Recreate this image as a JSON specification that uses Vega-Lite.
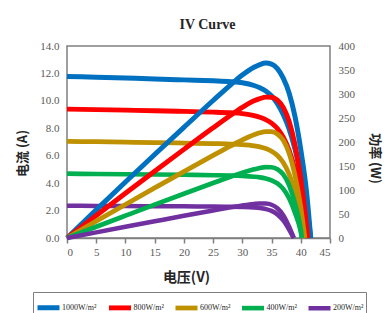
{
"$schema": "https://vega.github.io/schema/vega-lite/v6.json",
"autosize": {"type": "none"},
"width": 263, "height": 192,
"padding": {"left": 67, "top": 46, "right": 60, "bottom": 75},
"background": "white",
"title": {"text": "IV Curve", "font": "Liberation Serif", "fontSize": 14, "fontWeight": "bold", "color": "#262626", "dx": 9, "offset": 8},
"data": {"values": [
{"s":"1000W/m²","V":0,"I":11.78,"P":0},{"s":"1000W/m²","V":5,"I":11.72,"P":58.6},{"s":"1000W/m²","V":10,"I":11.66,"P":116.6},{"s":"1000W/m²","V":15,"I":11.6,"P":174},{"s":"1000W/m²","V":20,"I":11.53,"P":230.6},{"s":"1000W/m²","V":25,"I":11.46,"P":286.5},{"s":"1000W/m²","V":28,"I":11.4,"P":319.2},{"s":"1000W/m²","V":30,"I":11.32,"P":339.6},{"s":"1000W/m²","V":32,"I":11.12,"P":355.8},{"s":"1000W/m²","V":33,"I":10.95,"P":361.4},{"s":"1000W/m²","V":34,"I":10.72,"P":364.5},{"s":"1000W/m²","V":35,"I":10.35,"P":362.3},{"s":"1000W/m²","V":36,"I":9.8,"P":352.8},{"s":"1000W/m²","V":37,"I":9.0,"P":333},{"s":"1000W/m²","V":38,"I":7.95,"P":302.1},{"s":"1000W/m²","V":39,"I":6.5,"P":253.5},{"s":"1000W/m²","V":40,"I":4.6,"P":184},{"s":"1000W/m²","V":41,"I":2.3,"P":94.3},{"s":"1000W/m²","V":41.7,"I":0,"P":0},
{"s":"800W/m²","V":0,"I":9.4,"P":0},{"s":"800W/m²","V":5,"I":9.36,"P":46.8},{"s":"800W/m²","V":10,"I":9.32,"P":93.2},{"s":"800W/m²","V":15,"I":9.28,"P":139.2},{"s":"800W/m²","V":20,"I":9.23,"P":184.6},{"s":"800W/m²","V":25,"I":9.18,"P":229.5},{"s":"800W/m²","V":28,"I":9.13,"P":255.6},{"s":"800W/m²","V":30,"I":9.07,"P":272.1},{"s":"800W/m²","V":32,"I":8.93,"P":285.8},{"s":"800W/m²","V":33,"I":8.8,"P":290.4},{"s":"800W/m²","V":34,"I":8.63,"P":293.4},{"s":"800W/m²","V":35,"I":8.38,"P":293.3},{"s":"800W/m²","V":36,"I":7.98,"P":287.3},{"s":"800W/m²","V":37,"I":7.35,"P":272},{"s":"800W/m²","V":38,"I":6.4,"P":243.2},{"s":"800W/m²","V":39,"I":5.0,"P":195},{"s":"800W/m²","V":40,"I":3.1,"P":124},{"s":"800W/m²","V":41,"I":0.6,"P":24.6},{"s":"800W/m²","V":41.2,"I":0,"P":0},
{"s":"600W/m²","V":0,"I":7.05,"P":0},{"s":"600W/m²","V":5,"I":7.02,"P":35.1},{"s":"600W/m²","V":10,"I":6.99,"P":69.9},{"s":"600W/m²","V":15,"I":6.96,"P":104.4},{"s":"600W/m²","V":20,"I":6.92,"P":138.4},{"s":"600W/m²","V":25,"I":6.88,"P":172},{"s":"600W/m²","V":28,"I":6.85,"P":191.8},{"s":"600W/m²","V":30,"I":6.81,"P":204.3},{"s":"600W/m²","V":32,"I":6.72,"P":215},{"s":"600W/m²","V":33,"I":6.64,"P":219.1},{"s":"600W/m²","V":34,"I":6.52,"P":221.7},{"s":"600W/m²","V":35,"I":6.33,"P":221.6},{"s":"600W/m²","V":36,"I":6.02,"P":216.7},{"s":"600W/m²","V":37,"I":5.5,"P":203.5},{"s":"600W/m²","V":38,"I":4.65,"P":176.7},{"s":"600W/m²","V":39,"I":3.35,"P":130.7},{"s":"600W/m²","V":40,"I":1.6,"P":64},{"s":"600W/m²","V":40.7,"I":0,"P":0},
{"s":"400W/m²","V":0,"I":4.69,"P":0},{"s":"400W/m²","V":5,"I":4.67,"P":23.4},{"s":"400W/m²","V":10,"I":4.65,"P":46.5},{"s":"400W/m²","V":15,"I":4.63,"P":69.5},{"s":"400W/m²","V":20,"I":4.61,"P":92.2},{"s":"400W/m²","V":25,"I":4.58,"P":114.5},{"s":"400W/m²","V":28,"I":4.56,"P":127.7},{"s":"400W/m²","V":30,"I":4.53,"P":135.9},{"s":"400W/m²","V":32,"I":4.47,"P":143},{"s":"400W/m²","V":33,"I":4.42,"P":145.9},{"s":"400W/m²","V":34,"I":4.34,"P":147.6},{"s":"400W/m²","V":35,"I":4.21,"P":147.4},{"s":"400W/m²","V":36,"I":3.98,"P":143.3},{"s":"400W/m²","V":37,"I":3.58,"P":132.5},{"s":"400W/m²","V":38,"I":2.9,"P":110.2},{"s":"400W/m²","V":39,"I":1.85,"P":72.2},{"s":"400W/m²","V":40,"I":0.45,"P":18},{"s":"400W/m²","V":40.2,"I":0,"P":0},
{"s":"200W/m²","V":0,"I":2.35,"P":0},{"s":"200W/m²","V":5,"I":2.34,"P":11.7},{"s":"200W/m²","V":10,"I":2.33,"P":23.3},{"s":"200W/m²","V":15,"I":2.32,"P":34.8},{"s":"200W/m²","V":20,"I":2.31,"P":46.2},{"s":"200W/m²","V":25,"I":2.29,"P":57.3},{"s":"200W/m²","V":28,"I":2.28,"P":63.8},{"s":"200W/m²","V":30,"I":2.26,"P":67.8},{"s":"200W/m²","V":32,"I":2.22,"P":71},{"s":"200W/m²","V":33,"I":2.18,"P":71.9},{"s":"200W/m²","V":34,"I":2.11,"P":71.7},{"s":"200W/m²","V":35,"I":1.98,"P":69.3},{"s":"200W/m²","V":36,"I":1.72,"P":61.9},{"s":"200W/m²","V":37,"I":1.28,"P":47.4},{"s":"200W/m²","V":38,"I":0.62,"P":23.6},{"s":"200W/m²","V":38.8,"I":0,"P":0}
]},
"encoding": {
  "x": {"field": "V", "type": "quantitative", "scale": {"domain": [0, 45], "nice": false},
        "axis": {"values": [0,5,10,15,20,25,30,35,40,45], "grid": false, "ticks": true, "tickSize": 5, "tickColor": "#7f7f7f", "tickWidth": 1.5, "domainColor": "#7f7f7f", "domainWidth": 1.5,
                 "labelFont": "Liberation Serif", "labelFontSize": 11, "labelColor": "#595959", "labelPadding": 3,
                 "title": "电压(V)", "titleFont": "Noto Sans CJK SC", "titleFontSize": 14, "titleFontWeight": "bold", "titleColor": "#262626",
                 "titleX": 119, "titleY": 39, "titleBaseline": "middle", "titleAnchor": null}},
  "color": {"field": "s", "type": "nominal",
            "scale": {"domain": ["1000W/m²","800W/m²","600W/m²","400W/m²","200W/m²"], "range": ["#0070C0","#FF0000","#BF9000","#00B050","#7030A0"]},
            "legend": {"orient": "none", "legendX": -34, "legendY": 246, "direction": "horizontal", "columns": 5, "title": null, "gridAlign": "each",
                       "symbolType": "stroke", "symbolSize": 484, "symbolStrokeWidth": 5, "symbolOpacity": 1,
                       "labelFont": "Liberation Serif", "labelFontSize": 8, "labelColor": "#262626", "labelOffset": 0,
                       "columnPadding": 1.5, "padding": 2, "strokeColor": "#7f7f7f", "fillColor": "white"}},
  "strokeWidth": {"field": "s", "type": "nominal", "legend": null,
            "scale": {"domain": ["1000W/m²","800W/m²","600W/m²","400W/m²","200W/m²"], "range": [5, 4.5, 5, 3.3, 3.7]}}
},
"layer": [
  {"mark": {"type": "line", "interpolate": "monotone"},
   "encoding": {"y": {"field": "I", "type": "quantitative", "scale": {"domain": [0, 14], "nice": false},
      "axis": {"orient": "left", "values": [0,2,4,6,8,10,12,14], "format": ".1f", "grid": false, "ticks": false, "domain": false,
               "labelFont": "Liberation Serif", "labelFontSize": 11, "labelColor": "#595959", "labelPadding": 8,
               "title": "电流 (A)", "titleFont": "Noto Sans CJK SC", "titleFontSize": 13, "titleFontWeight": "bold", "titleColor": "#262626",
               "titleAngle": -90, "titleX": -45, "titleY": 107, "titleBaseline": "middle", "titleAlign": "center"}}}},
  {"mark": {"type": "line", "interpolate": "monotone"},
   "encoding": {"y": {"field": "P", "type": "quantitative", "scale": {"domain": [0, 400], "nice": false},
      "axis": {"orient": "right", "values": [0,50,100,150,200,250,300,350,400], "format": "d", "grid": false, "ticks": false, "domain": false,
               "labelFont": "Liberation Serif", "labelFontSize": 11, "labelColor": "#595959", "labelPadding": 8,
               "title": "功率 (W)", "titleFont": "Noto Sans CJK SC", "titleFontSize": 13, "titleFontWeight": "bold", "titleColor": "#262626",
               "titleAngle": 90, "titleX": 44, "titleY": 112, "titleBaseline": "middle", "titleAlign": "center"}}}}
],
"resolve": {"scale": {"y": "independent"}},
"config": {"view": {"stroke": "#7f7f7f", "strokeWidth": 1.5}}
}
